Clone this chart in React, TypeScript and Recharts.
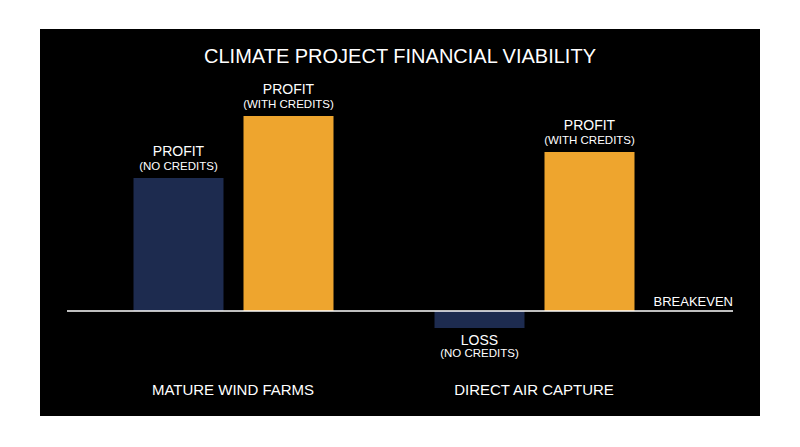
import React from 'react';
import { BarChart, Bar, XAxis, YAxis, ReferenceLine, LabelList } from 'recharts';

const categories = ['MATURE WIND FARMS', 'DIRECT AIR CAPTURE'];
const noCredits = [13.3, -1.7];
const withCredits = [19.5, 15.9];
const noCreditsLabels = ['PROFIT', 'LOSS'];
const withCreditsLabels = ['PROFIT', 'PROFIT'];
const noCreditsNote = '(NO CREDITS)';
const withCreditsNote = '(WITH CREDITS)';

const NAVY = '#1d2b4f';
const ORANGE = '#eea52e';
const FONT = '"Liberation Sans", Arial, sans-serif';

const data = categories.map((name, i) => ({
  name,
  noCredits: noCredits[i],
  withCredits: withCredits[i],
}));

const makeBarLabel = (titles: string[], note: string, values: number[]) => (props: any) => {
  const { x, y, width, height, index } = props;
  const top = Math.min(y, y + height);
  const bottom = Math.max(y, y + height);
  const cx = x + width / 2;
  // losses get their label under the bar
  if (values[index] < 0) {
    return (
      <g>
        <text x={cx} y={bottom + 17} textAnchor="middle" fill="#fff" fontSize={14} fontFamily={FONT}>{titles[index]}</text>
        <text x={cx} y={bottom + 29} textAnchor="middle" fill="#fff" fontSize={11.5} fontFamily={FONT}>{note}</text>
      </g>
    );
  }
  return (
    <g>
      <text x={cx} y={top - 22} textAnchor="middle" fill="#fff" fontSize={14} fontFamily={FONT}>{titles[index]}</text>
      <text x={cx} y={top - 8} textAnchor="middle" fill="#fff" fontSize={11.5} fontFamily={FONT}>{note}</text>
    </g>
  );
};

const CategoryTick = (props: any) => {
  const { x, payload } = props;
  return (
    <text x={x} y={395} textAnchor="middle" fill="#fff" fontSize={15} fontFamily={FONT}>
      {payload.value}
    </text>
  );
};

const BreakevenLabel = (props: any) => {
  const { viewBox } = props;
  return (
    <text x={viewBox.x + viewBox.width} y={viewBox.y - 5} textAnchor="end" fill="#fff" fontSize={13} fontFamily={FONT}>
      BREAKEVEN
    </text>
  );
};

export default function App() {
  return (
    <div style={{ position: 'absolute', left: 0, top: 0, width: 800, height: 447, background: '#fff' }}>
      <div style={{ position: 'absolute', left: 40, top: 29, width: 720, height: 387, background: '#000' }} />
      <div
        style={{
          position: 'absolute', left: 0, top: 44, width: 800, textAlign: 'center',
          color: '#fff', fontFamily: FONT, fontSize: 20, lineHeight: '24px',
        }}
      >
        CLIMATE PROJECT FINANCIAL VIABILITY
      </div>
      <div style={{ position: 'absolute', left: 0, top: 0 }}>
        <BarChart
          width={800}
          height={447}
          data={data}
          margin={{ top: 80, right: 67, bottom: 47, left: 67 }}
          barCategoryGap={50.5}
          barGap={20}
          barSize={90}
        >
          <XAxis
            dataKey="name"
            height={60}
            axisLine={false}
            tickLine={false}
            padding={{ left: 15.5, right: 48.5 }}
            tick={<CategoryTick />}
            interval={0}
          />
          <YAxis hide domain={[-2.9, 23.1]} />
          <Bar dataKey="noCredits" fill={NAVY} isAnimationActive={false}>
            <LabelList dataKey="noCredits" content={makeBarLabel(noCreditsLabels, noCreditsNote, noCredits)} />
          </Bar>
          <Bar dataKey="withCredits" fill={ORANGE} isAnimationActive={false}>
            <LabelList dataKey="withCredits" content={makeBarLabel(withCreditsLabels, withCreditsNote, withCredits)} />
          </Bar>
          <ReferenceLine y={0} stroke="#fff" strokeWidth={1.5} label={<BreakevenLabel />} />
        </BarChart>
      </div>
    </div>
  );
}
